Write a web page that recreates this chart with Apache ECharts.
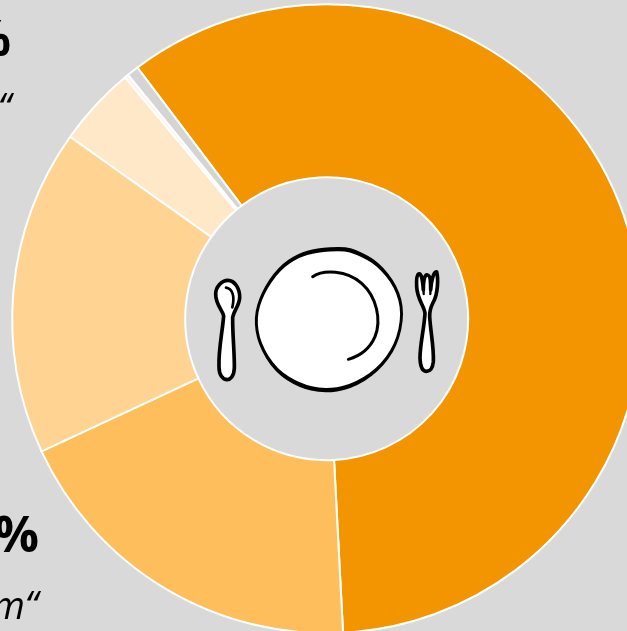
<!DOCTYPE html>
<html><head><meta charset="utf-8">
<style>html,body{margin:0;padding:0;background:#d9d9d9;overflow:hidden}#c{width:627px;height:631px}</style>
<script src="https://cdn.jsdelivr.net/npm/echarts@6/dist/echarts.min.js"></script>
</head><body><div id="c"></div>
<script>
var categories = ['A','B','C','D','E','F'];
var values = [59.45, 18.9, 16.75, 4.1, 0.2, 0.6];
var colors = ['#f39500','#ffbe5c','#ffd492','#fee8c8','#fdf4e5','#d4d4d4'];
var chart = echarts.init(document.getElementById('c'), null, {renderer:'canvas'});
var font = '"Open Sans", sans-serif';
function txt(s,x,y,size,weight,style){
  return {type:'text',x:x,y:y,silent:true,style:{text:s,fill:'#000',font:style+' '+weight+' '+size+'px '+font,textAlign:'right',textVerticalAlign:'middle'}};
}
function smooth(p){
  function mid(a,b){return ((a[0]+b[0])/2)+' '+((a[1]+b[1])/2);}
  var n=p.length,d='M'+mid(p[n-1],p[0]);
  for(var i=0;i<n;i++) d+=' Q'+p[i][0]+' '+p[i][1]+' '+mid(p[i],p[(i+1)%n]);
  return d+' Z';
}
var plate=[[430,52],[350,58],[296,72],[236,113],[186,188],[164,262],[176,342],[226,424],[298,470],[370,487],[452,475],[534,424],[590,347],[611,250],[590,168],[534,98],[472,64]];
function scaled(sx,sy){return plate.map(function(q){return [388+(q[0]-388)*sx,268+(q[1]-268)*sy];});}
var iconPaths = {
  plateOuter:smooth(scaled(1.015,1.015)),
  plateInner:smooth(scaled(0.975,0.955)),
  plateArc:'M338 140 C370 118 440 120 485 160 C530 200 545 270 525 320 C510 355 480 378 445 388',
  spoonOutline:'M84 151 C105 151 120 178 119 203 C118 228 102 240 98 262 C97 310 104 370 103 415 C102 440 90 449 82 449 C68 449 57 435 57 410 C55 360 68 300 71 258 C68 240 47 225 47 192 C47 170 65 151 84 151 Z',
  spoonArc:'M78 173 C95 175 106 195 97 232',
  forkOutline:'M656 132 C664 128 668 150 670 180 C670 150 675 132 682 135 C692 135 692 160 692 180 C694 150 702 122 710 126 C716 150 712 190 703 210 C696 225 688 235 689 260 C692 310 702 350 700 395 C698 415 690 424 680 424 C668 424 661 410 660 385 C660 340 672 300 675 250 C672 225 652 210 650 170 C649 150 650 135 656 132 Z',
  forkTines:'M670 160 L671 192 M692 160 L691 192'
};
Object.keys(iconPaths).forEach(function(k){
  echarts.graphic.registerShape(k, echarts.graphic.extendPath(iconPaths[k], {}));
});
function ic(name,fill,lw){
  return {type:name,style:{fill:fill,stroke:lw?'#000':'none',lineWidth:lw,lineJoin:'round',lineCap:'round'}};
}
chart.setOption({
  animation:false,
  backgroundColor:'#d9d9d9',
  series:[{
    type:'pie',silent:true,center:[326.7,318.7],radius:[141.5,314.5],startAngle:127,clockwise:true,
    label:{show:false},labelLine:{show:false},
    itemStyle:{borderColor:'#fff',borderWidth:2},
    data:categories.map(function(c,i){return {name:c,value:values[i],itemStyle:{color:colors[i]}};})
  }],
  graphic:[
    txt('%',11,42,50,700,'normal'),
    txt('“',11,110,38,400,'italic'),
    txt('%',39,538,50,700,'normal'),
    txt('m“',38,608,38,400,'italic'),
    {type:'group',x:200,y:230,scaleX:1/3,scaleY:1/3,silent:true,children:[
      ic('plateOuter','#000',0),
      ic('plateInner','#fff',0),
      ic('plateArc','none',9),
      ic('spoonOutline','#fff',11),
      ic('spoonArc','none',8),
      ic('forkOutline','#fff',11),
      ic('forkTines','none',7)
    ]}
  ]
});
</script></body></html>
